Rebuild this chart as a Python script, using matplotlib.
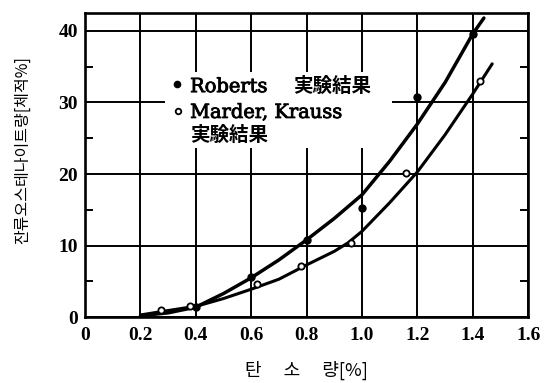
import matplotlib
matplotlib.use("Agg")
import matplotlib.pyplot as plt
from matplotlib.patches import Rectangle
import matplotlib.patheffects as pe

# Measured points
roberts_c = [0.40, 0.60, 0.80, 1.00, 1.20, 1.40]
roberts_ra = [1.4, 5.6, 10.8, 15.2, 30.7, 39.5]
mk_c = [0.274, 0.379, 0.62, 0.78, 0.96, 1.16, 1.425]
mk_ra = [1.0, 1.6, 4.6, 7.1, 10.4, 20.2, 33.0]

# Hand-drawn trend curves through each data set
roberts_curve_c = [0.20, 0.30, 0.40, 0.50, 0.60, 0.70, 0.80, 0.90, 1.00,
                   1.10, 1.20, 1.30, 1.40, 1.44]
roberts_curve_ra = [0.2, 0.6, 1.4, 3.3, 5.5, 8.0, 10.8, 13.8, 17.1,
                    21.8, 27.0, 32.8, 39.6, 41.8]
mk_curve_c = [0.20, 0.28, 0.38, 0.40, 0.50, 0.60, 0.70, 0.80, 0.90,
              0.95, 1.00, 1.10, 1.20, 1.30, 1.40, 1.47]
mk_curve_ra = [0.3, 0.8, 1.4, 1.5, 2.6, 3.9, 5.3, 7.3, 9.2,
               10.4, 12.0, 16.0, 20.3, 25.5, 31.2, 35.4]

x_ticks = [0, 0.2, 0.4, 0.6, 0.8, 1.0, 1.2, 1.4, 1.6]
x_labels = ["0", "0.2", "0.4", "0.6", "0.8", "1.0", "1.2", "1.4", "1.6"]
y_ticks = [0, 10, 20, 30, 40]
y_minor = [5, 15, 25, 35]

xlabel = "탄\u3000 소\u3000 량[%]"
ylabel = "잔류오스테나이트량[체적%]"
legend_lines = ["Roberts", "実験結果", "Marder, Krauss", "実験結果"]

SERIF = ["DejaVu Serif", "Noto Sans CJK JP"]
TICKFONT = "Liberation Serif"
heavy = [pe.withStroke(linewidth=0.6, foreground="black")]

fig = plt.figure(figsize=(5.56, 3.83), dpi=100)
ax = fig.add_axes([0.153, 0.172, 0.797, 0.794])

ax.set_xlim(0, 1.6)
ax.set_ylim(0, 42.5)

ax.set_xticks(x_ticks)
ax.set_xticklabels(x_labels, fontfamily=TICKFONT, fontweight="bold", fontsize=14)
ax.set_yticks(y_ticks)
ax.set_yticklabels([str(v) for v in y_ticks], fontfamily=TICKFONT,
                   fontweight="bold", fontsize=14)
ax.set_yticks(y_minor, minor=True)
ax.tick_params(axis="x", which="major", length=0, pad=7)
ax.tick_params(axis="y", which="major", length=0, pad=5)
ax.tick_params(axis="y", which="minor", direction="in", length=6, width=1.4,
               left=True, right=True)

ax.grid(True, which="major", color="black", linewidth=1.4, zorder=1)
ax.set_axisbelow(True)
for s in ax.spines.values():
    s.set_linewidth(1.9)

# White block behind the key text, interrupting the grid
ax.add_patch(Rectangle((0.181, 0.556), 0.512, 0.25, transform=ax.transAxes,
                       facecolor="white", edgecolor="none", zorder=1.5))

ax.plot(roberts_curve_c, roberts_curve_ra, color="black", lw=2.5,
        solid_capstyle="round", solid_joinstyle="round", zorder=3)
ax.plot(mk_curve_c, mk_curve_ra, color="black", lw=2.2,
        solid_capstyle="round", solid_joinstyle="round", zorder=3)
ax.plot(roberts_c, roberts_ra, "o", color="black", ms=5, zorder=4)
ax.plot(mk_c, mk_ra, "o", mfc="white", mec="black", mew=1.3, ms=4.5, zorder=4)

# Key
ax.plot([0.208], [0.766], "o", color="black", ms=4.5, transform=ax.transAxes,
        clip_on=False, zorder=5)
ax.plot([0.210], [0.678], "o", mfc="white", mec="black", mew=1.3, ms=4,
        transform=ax.transAxes, clip_on=False, zorder=5)
ax.text(0.237, 0.740, legend_lines[0], transform=ax.transAxes,
        family=SERIF, fontsize=14, va="baseline", zorder=5, path_effects=heavy)
ax.text(0.470, 0.742, legend_lines[1], transform=ax.transAxes,
        family=["Noto Sans CJK JP"], fontweight="bold", fontsize=14,
        va="baseline", zorder=5)
ax.text(0.237, 0.655, legend_lines[2], transform=ax.transAxes,
        family=SERIF, fontsize=14, va="baseline", zorder=5, path_effects=heavy)
ax.text(0.237, 0.579, legend_lines[3], transform=ax.transAxes,
        family=["Noto Sans CJK JP"], fontweight="bold", fontsize=14,
        va="baseline", zorder=5)

ax.set_xlabel(xlabel, family=["Noto Sans CJK KR"], fontsize=13, labelpad=12)
ax.set_ylabel(ylabel, family=["Noto Sans CJK KR"], fontsize=11.5)
ax.yaxis.set_label_coords(-0.122, 0.55)

fig.savefig("out.png", dpi=100)
